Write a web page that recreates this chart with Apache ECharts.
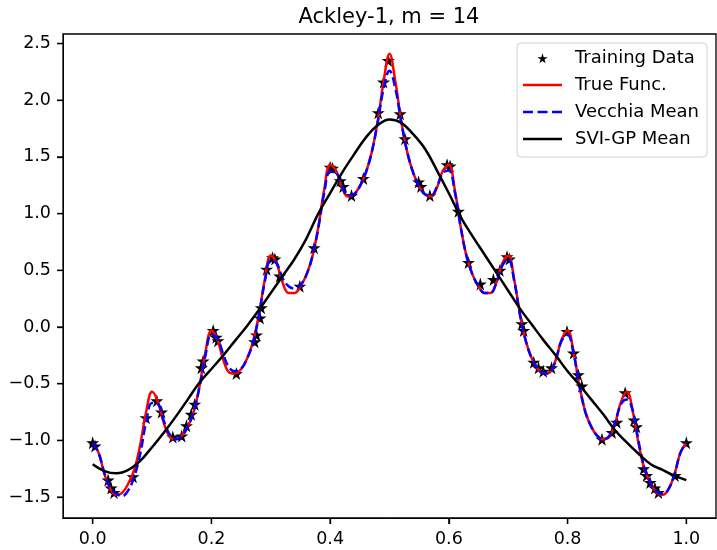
<!DOCTYPE html>
<html>
<head>
<meta charset="utf-8">
<script src="https://cdn.jsdelivr.net/npm/echarts@6/dist/echarts.min.js"></script>
<style>
  html, body { margin: 0; padding: 0; background: #fff; }
  #chart { width: 717px; height: 550px; }
</style>
</head>
<body>
<div id="chart"></div>
<script>
// grid of x positions for the curves (step 0.01)
const gridX = [
  0.00, 0.01, 0.02, 0.03, 0.04, 0.05, 0.06, 0.07, 0.08, 0.09,
  0.10, 0.11, 0.12, 0.13, 0.14, 0.15, 0.16, 0.17, 0.18, 0.19,
  0.20, 0.21, 0.22, 0.23, 0.24, 0.25, 0.26, 0.27, 0.28, 0.29,
  0.30, 0.31, 0.32, 0.33, 0.34, 0.35, 0.36, 0.37, 0.38, 0.39,
  0.40, 0.41, 0.42, 0.43, 0.44, 0.45, 0.46, 0.47, 0.48, 0.49,
  0.50, 0.51, 0.52, 0.53, 0.54, 0.55, 0.56, 0.57, 0.58, 0.59,
  0.60, 0.61, 0.62, 0.63, 0.64, 0.65, 0.66, 0.67, 0.68, 0.69,
  0.70, 0.71, 0.72, 0.73, 0.74, 0.75, 0.76, 0.77, 0.78, 0.79,
  0.80, 0.81, 0.82, 0.83, 0.84, 0.85, 0.86, 0.87, 0.88, 0.89,
  0.90, 0.91, 0.92, 0.93, 0.94, 0.95, 0.96, 0.97, 0.98, 0.99,
  1.00
];

// True Func. (red)
const trueY = [
  -1.02, -1.11, -1.30, -1.43, -1.48, -1.46, -1.38, -1.26, -1.04, -0.75,
  -0.57, -0.66, -0.85, -0.97, -0.99, -0.96, -0.88, -0.75, -0.52, -0.22,
  -0.03, -0.11, -0.29, -0.40, -0.41, -0.37, -0.28, -0.13, 0.11, 0.42,
  0.63, 0.56, 0.39, 0.30, 0.30, 0.36, 0.46, 0.62, 0.88, 1.21,
  1.43, 1.38, 1.23, 1.15, 1.17, 1.24, 1.36, 1.54, 1.81, 2.16,
  2.41, 2.16, 1.81, 1.54, 1.36, 1.24, 1.17, 1.15, 1.23, 1.38,
  1.43, 1.21, 0.88, 0.62, 0.46, 0.36, 0.30, 0.30, 0.39, 0.56,
  0.63, 0.42, 0.11, -0.13, -0.28, -0.37, -0.41, -0.40, -0.29, -0.11,
  -0.03, -0.22, -0.52, -0.75, -0.88, -0.96, -0.99, -0.97, -0.85, -0.66,
  -0.57, -0.75, -1.04, -1.26, -1.38, -1.46, -1.48, -1.43, -1.30, -1.11,
  -1.02
];

// Vecchia Mean (blue dashed)
const vecchiaY = [
  -1.02, -1.11, -1.29, -1.42, -1.47, -1.49, -1.44, -1.32, -1.12, -0.84,
  -0.67, -0.68, -0.83, -0.95, -0.99, -0.96, -0.88, -0.75, -0.53, -0.25,
  -0.07, -0.10, -0.24, -0.36, -0.39, -0.37, -0.28, -0.14, 0.10, 0.40,
  0.59, 0.56, 0.43, 0.36, 0.34, 0.37, 0.46, 0.62, 0.87, 1.18,
  1.37, 1.36, 1.24, 1.16, 1.17, 1.24, 1.36, 1.54, 1.80, 2.10,
  2.26, 2.10, 1.80, 1.54, 1.36, 1.24, 1.17, 1.16, 1.24, 1.36,
  1.38, 1.19, 0.88, 0.62, 0.46, 0.36, 0.30, 0.30, 0.39, 0.54,
  0.60, 0.41, 0.10, -0.13, -0.28, -0.37, -0.41, -0.40, -0.29, -0.12,
  -0.07, -0.23, -0.52, -0.75, -0.88, -0.96, -0.99, -0.96, -0.84, -0.68,
  -0.64, -0.74, -1.02, -1.25, -1.38, -1.45, -1.47, -1.43, -1.30, -1.11,
  -1.02
];

// SVI-GP Mean (black)
const sviX = [
  0.00, 0.02, 0.04, 0.06, 0.08, 0.10, 0.12, 0.14, 0.16, 0.18,
  0.20, 0.22, 0.24, 0.26, 0.28, 0.30, 0.32, 0.34, 0.36, 0.38,
  0.40, 0.42, 0.44, 0.46, 0.48, 0.50, 0.52, 0.54, 0.56, 0.58,
  0.60, 0.62, 0.64, 0.66, 0.68, 0.70, 0.72, 0.74, 0.76, 0.78,
  0.80, 0.82, 0.84, 0.86, 0.88, 0.90, 0.92, 0.94, 0.96, 0.98,
  1.00
];
const sviY = [
  -1.21, -1.27, -1.29, -1.26, -1.18, -1.06, -0.93, -0.79, -0.64, -0.49,
  -0.37, -0.25, -0.12, 0.01, 0.15, 0.30, 0.45, 0.60, 0.78, 1.00,
  1.18, 1.36, 1.52, 1.67, 1.78, 1.83, 1.80, 1.70, 1.57, 1.38,
  1.18, 0.97, 0.80, 0.64, 0.48, 0.32, 0.16, 0.02, -0.12, -0.25,
  -0.39, -0.51, -0.64, -0.77, -0.91, -1.02, -1.12, -1.21, -1.26, -1.31,
  -1.35
];

// Training Data (stars)
const starX = [
  0.000, 0.004, 0.026, 0.031, 0.036, 0.068, 0.090, 0.108, 0.116, 0.135,
  0.150, 0.158, 0.166, 0.172, 0.183, 0.186, 0.203, 0.208, 0.211, 0.242,
  0.273, 0.276, 0.282, 0.284, 0.293, 0.303, 0.307, 0.315, 0.349, 0.373,
  0.400, 0.404, 0.417, 0.422, 0.436, 0.456, 0.481, 0.490, 0.498,
  0.518, 0.526, 0.549, 0.553, 0.568, 0.597, 0.602, 0.616, 0.633, 0.653,
  0.675, 0.686, 0.698, 0.702, 0.723, 0.726, 0.743, 0.751, 0.759, 0.773,
  0.799, 0.810, 0.818, 0.824, 0.858, 0.875, 0.883, 0.897, 0.912, 0.916,
  0.928, 0.933, 0.939, 0.947, 0.953, 0.981, 1.000
];
const starY = [
  -1.02, -1.05, -1.35, -1.42, -1.46, -1.32, -0.80, -0.65, -0.75, -0.97,
  -0.96, -0.87, -0.77, -0.68, -0.36, -0.30, -0.03, -0.09, -0.12, -0.41,
  -0.13, -0.07, 0.08, 0.17, 0.51, 0.61, 0.60, 0.45, 0.36, 0.70,
  1.41, 1.40, 1.29, 1.24, 1.16, 1.31, 1.89, 2.16, 2.35,
  1.88, 1.66, 1.28, 1.24, 1.16, 1.43, 1.42, 1.02, 0.57, 0.38,
  0.42, 0.50, 0.62, 0.60, 0.03, -0.03, -0.31, -0.36, -0.39, -0.36,
  -0.04, -0.23, -0.42, -0.52, -0.99, -0.93, -0.84, -0.58, -0.82, -0.88,
  -1.25, -1.31, -1.37, -1.42, -1.46, -1.31, -1.02
];

const xTicks = [0.0, 0.2, 0.4, 0.6, 0.8, 1.0];
const yTicks = [-1.5, -1.0, -0.5, 0.0, 0.5, 1.0, 1.5, 2.0, 2.5];

const xMin = -0.05, xMax = 1.05;
const yMin = -1.684, yMax = 2.584;

const starPath = 'path://M50,0 L61,35 L98,35 L68,57 L79,91 L50,70 L21,91 L32,57 L2,35 L39,35 Z';
// legend icons: star padded with empty space, solid and dashed strokes
const starIcon = 'path://M50,-22 L50.01,-22 L50,-22 Z M50,0 L61,35 L98,35 L68,57 L79,91 L50,70 L21,91 L32,57 L2,35 L39,35 Z M50,108 L50.01,108 L50,108 Z';
const solidIcon = 'path://M0,0 H39 V2.6 H0 Z';
const dashIcon = 'path://M0,0 H10 V2.6 H0 Z M14.5,0 H24.5 V2.6 H14.5 Z M29,0 H39 V2.6 H29 Z';
const font = 'DejaVu Sans';
const TICK_LEN = 6;

function pairs(xs, ys) {
  return xs.map((x, i) => [x, ys[i]]);
}

// outward tick marks on the bottom / left spines, placed through the axes' scales
function tickSeries(name, data, horizontal) {
  return {
    name: name,
    type: 'custom',
    silent: true,
    clip: false,
    z: 10,
    renderItem: (params, api) => {
      const p = api.coord([api.value(0), api.value(1)]);
      const shape = horizontal
        ? {x1: p[0], y1: p[1], x2: p[0], y2: p[1] + TICK_LEN}
        : {x1: p[0], y1: p[1], x2: p[0] - TICK_LEN, y2: p[1]};
      return {
        type: 'line',
        shape: shape,
        style: {stroke: '#000', lineWidth: 1.3}
      };
    },
    data: data
  };
}

const chart = echarts.init(document.getElementById('chart'));

const option = {
  animation: false,
  backgroundColor: '#fff',
  title: {
    text: 'Ackley-1, m = 14',
    left: 389,
    textAlign: 'center',
    top: 7,
    padding: 0,
    textStyle: {
      fontFamily: font,
      fontWeight: 'normal',
      fontSize: 21,
      color: '#000'
    }
  },
  grid: {
    left: 63,
    right: 1,
    top: 34,
    bottom: 32,
    show: true,
    borderColor: '#000',
    borderWidth: 1.3
  },
  legend: {
    orient: 'vertical',
    right: 10,
    top: 43,
    padding: [6, 8, 9, 6],
    itemWidth: 39,
    itemHeight: 14,
    itemGap: 9,
    borderColor: '#d0d0d0',
    borderWidth: 1,
    borderRadius: 4,
    backgroundColor: 'rgba(255,255,255,0.8)',
    textStyle: {
      fontFamily: font,
      fontSize: 18,
      color: '#000',
      padding: [0, 0, 0, 8]
    },
    data: [
      {name: 'Training Data', icon: starIcon, itemStyle: {color: '#000'}},
      {name: 'True Func.', icon: solidIcon, itemStyle: {color: '#ff0000'}},
      {name: 'Vecchia Mean', icon: dashIcon, itemStyle: {color: '#0000ff'}},
      {name: 'SVI-GP Mean', icon: solidIcon, itemStyle: {color: '#000'}}
    ]
  },
  xAxis: {
    type: 'value',
    min: xMin,
    max: xMax,
    splitLine: {show: false},
    axisLine: {show: true, onZero: false, lineStyle: {color: '#000'}},
    axisTick: {
      show: true,
      customValues: xTicks,
      length: TICK_LEN,
      lineStyle: {color: '#000', width: 1.3}
    },
    axisLabel: {
      customValues: xTicks,
      margin: 12,
      fontFamily: font,
      fontSize: 17.5,
      color: '#000',
      formatter: (v) => v.toFixed(1)
    }
  },
  yAxis: {
    type: 'value',
    min: yMin,
    max: yMax,
    splitLine: {show: false},
    axisLine: {show: true, onZero: false, lineStyle: {color: '#000'}},
    axisTick: {
      show: true,
      customValues: yTicks,
      length: TICK_LEN,
      lineStyle: {color: '#000', width: 1.3}
    },
    axisLabel: {
      customValues: yTicks,
      margin: 12,
      fontFamily: font,
      fontSize: 17.5,
      color: '#000',
      formatter: (v) => v.toFixed(1).replace('-', '\u2212')
    }
  },
  series: [
    {
      name: 'Training Data',
      type: 'scatter',
      symbol: starPath,
      symbolSize: 13,
      itemStyle: {color: '#000', opacity: 1},
      data: pairs(starX, starY)
    },
    {
      name: 'True Func.',
      type: 'line',
      showSymbol: false,
      symbol: 'none',
      smooth: 0.4,
      lineStyle: {color: '#ff0000', width: 2.5},
      itemStyle: {color: '#ff0000'},
      data: pairs(gridX, trueY)
    },
    {
      name: 'Vecchia Mean',
      type: 'line',
      showSymbol: false,
      symbol: 'none',
      smooth: 0.4,
      lineStyle: {color: '#0000ff', width: 2.5, type: [9, 4]},
      itemStyle: {color: '#0000ff'},
      data: pairs(gridX, vecchiaY)
    },
    {
      name: 'SVI-GP Mean',
      type: 'line',
      showSymbol: false,
      symbol: 'none',
      smooth: 0.4,
      lineStyle: {color: '#000', width: 2.5},
      itemStyle: {color: '#000'},
      data: pairs(sviX, sviY)
    },
    tickSeries('xticks', xTicks.map((v) => [v, yMin]), true),
    tickSeries('yticks', yTicks.map((v) => [xMin, v]), false)
  ]
};

chart.setOption(option);
</script>
</body>
</html>
